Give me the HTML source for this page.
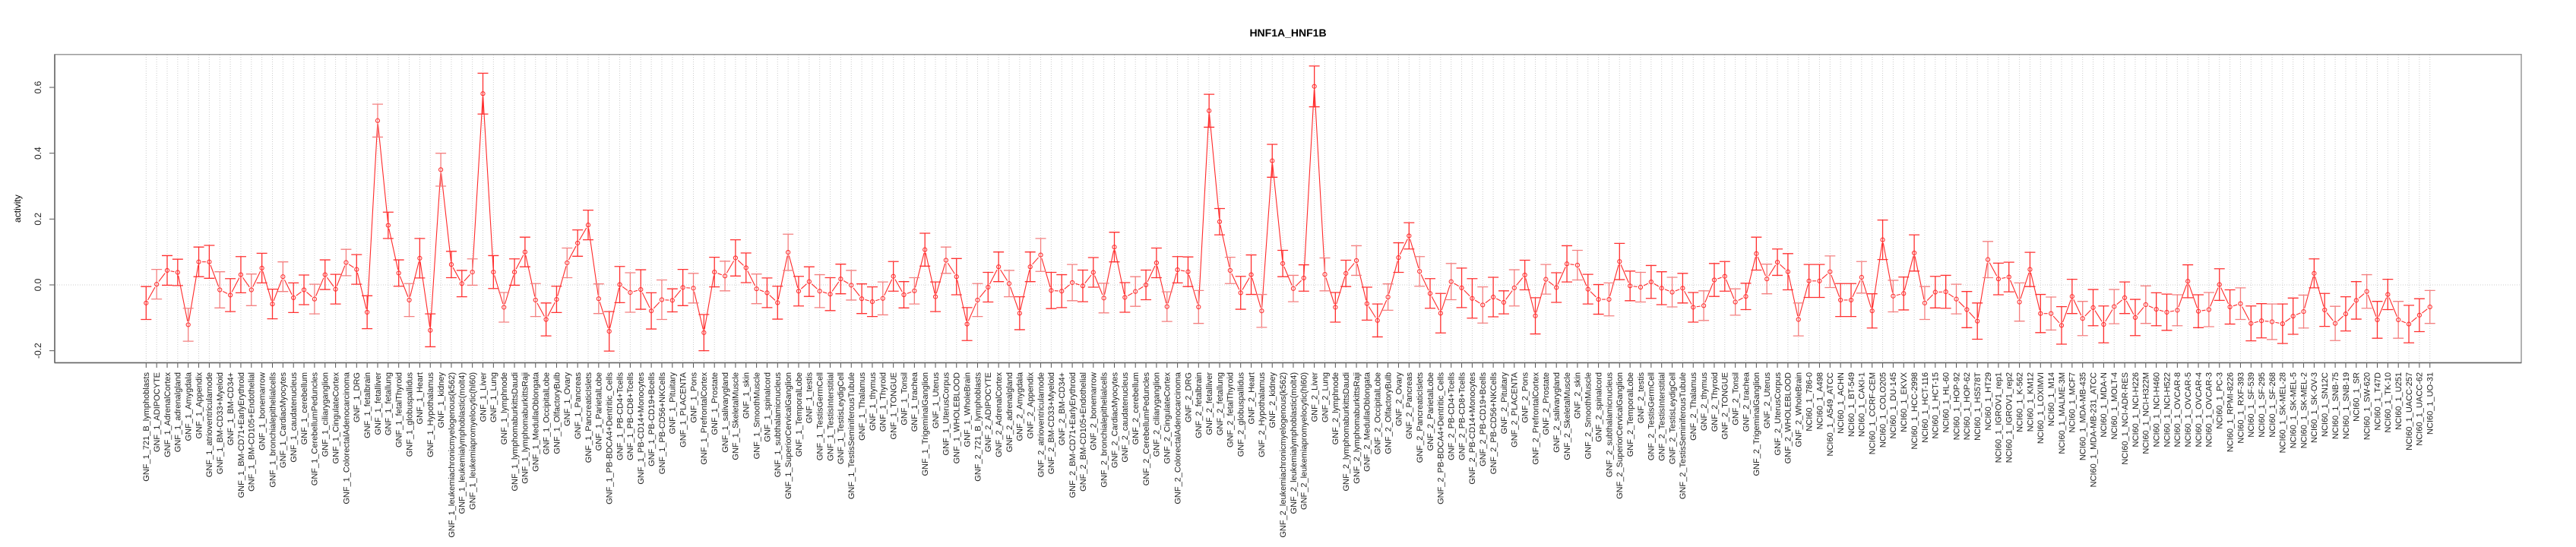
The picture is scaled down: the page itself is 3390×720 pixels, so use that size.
<!DOCTYPE html>
<html><head><meta charset="utf-8">
<style>
html,body{margin:0;padding:0;background:#fff;}
svg{display:block;font-family:"Liberation Sans",Arial,sans-serif;}
</style></head>
<body>
<svg id="chart" width="3390" height="720" viewBox="0 0 3390 720" xmlns="http://www.w3.org/2000/svg">
<rect x="0" y="0" width="3390" height="720" fill="#fff"/>
<text x="1695" y="48" text-anchor="middle" font-size="14" font-weight="bold">HNF1A_HNF1B</text>
<text transform="translate(27,274.6) rotate(-90)" text-anchor="middle" font-size="12">activity</text>
<g id="grid"></g>
<g id="yaxis"></g>
<g id="xaxis"></g>
<g id="series"></g>
<rect x="72" y="71.7" width="3246" height="405.8" fill="none" stroke="#999" stroke-width="1.5"/>
<line x1="72" y1="71.7" x2="72" y2="477.5" stroke="#666" stroke-width="1.5"/>
<line x1="72" y1="477.5" x2="3318" y2="477.5" stroke="#666" stroke-width="1.5"/>
</svg>
<script>
const tissues = ["721_B_lymphoblasts","ADIPOCYTE","AdrenalCortex","adrenalgland","Amygdala","Appendix","atrioventricularnode","BM-CD33+Myeloid","BM-CD34+","BM-CD71+EarlyErythroid","BM-CD105+Endothelial","bonemarrow","bronchialepithelialcells","CardiacMyocytes","caudatenucleus","cerebellum","CerebellumPeduncles","ciliaryganglion","CingulateCortex","ColorectalAdenocarcinoma","DRG","fetalbrain","fetalliver","fetallung","fetalThyroid","globuspallidus","Heart","Hypothalamus","kidney","leukemiachronicmyelogenous(k562)","leukemialymphoblastic(molt4)","leukemiapromyelocytic(hl60)","Liver","Lung","lymphnode","lymphomaburkittsDaudi","lymphomaburkittsRaji","MedullaOblongata","OccipitalLobe","OlfactoryBulb","Ovary","Pancreas","PancreaticIslets","ParietalLobe","PB-BDCA4+Dentritic_Cells","PB-CD4+Tcells","PB-CD8+Tcells","PB-CD14+Monocytes","PB-CD19+Bcells","PB-CD56+NKCells","Pituitary","PLACENTA","Pons","PrefrontalCortex","Prostate","salivarygland","SkeletalMuscle","skin","SmoothMuscle","spinalcord","subthalamicnucleus","SuperiorCervicalGanglion","TemporalLobe","testis","TestisGermCell","TestisInterstitial","TestisLeydigCell","TestisSeminiferousTubule","Thalamus","thymus","Thyroid","TONGUE","Tonsil","trachea","TrigeminalGanglion","Uterus","UterusCorpus","WHOLEBLOOD","WholeBrain"];
const cellLines = ["786-0","A498","A549_ATCC","ACHN","BT-549","CAKI-1","CCRF-CEM","COLO205","DU-145","EKVX","HCC-2998","HCT-116","HCT-15","HL-60","HOP-92","HOP-62","HS578T","HT29","IGROV1_rep1","IGROV1_rep2","K-562","KM12","LOXIMVI","M14","MALME-3M","MCF7","MDA-MB-435","MDA-MB-231_ATCC","MDA-N","MOLT-4","NCI-ADR-RES","NCI-H226","NCI-H322M","NCI-H460","NCI-H522","OVCAR-8","OVCAR-5","OVCAR-4","OVCAR-3","PC-3","RPMI-8226","RXF-393","SF-539","SF-295","SF-268","SK-MEL-28","SK-MEL-5","SK-MEL-2","SK-OV-3","SN12C","SNB-75","SNB-19","SR","SW-620","T47D","TK-10","U251","UACC-257","UACC-62","UO-31"];
const valuesGNF1 = [-0.055,0.002,0.044,0.038,-0.121,0.070,0.070,-0.015,-0.031,0.031,-0.015,0.051,-0.058,0.025,-0.039,-0.015,-0.043,0.031,-0.013,0.068,0.047,-0.083,0.499,0.181,0.036,-0.046,0.081,-0.138,0.350,0.062,0.004,0.039,0.581,0.039,-0.068,0.039,0.100,-0.046,-0.105,-0.044,0.067,0.127,0.182,-0.042,-0.141,0.001,-0.023,-0.014,-0.079,-0.045,-0.047,-0.008,-0.010,-0.145,0.039,0.027,0.082,0.052,-0.012,-0.024,-0.054,0.099,-0.019,0.010,-0.019,-0.028,0.018,-0.001,-0.042,-0.051,-0.041,0.026,-0.030,-0.018,0.107,-0.036,0.075,0.025,-0.119];
const valuesGNF2 = [-0.046,-0.007,0.055,0.004,-0.086,0.055,0.091,-0.017,-0.019,0.007,-0.003,0.038,-0.040,0.115,-0.038,-0.020,0.000,0.067,-0.066,0.046,0.040,-0.067,0.529,0.192,0.044,-0.024,0.031,-0.079,0.377,0.065,-0.011,0.021,0.603,0.032,-0.068,0.035,0.074,-0.057,-0.108,-0.037,0.083,0.149,0.041,-0.026,-0.086,0.010,-0.009,-0.041,-0.061,-0.037,-0.053,-0.009,0.030,-0.094,0.017,-0.008,0.064,0.060,-0.013,-0.044,-0.044,0.071,-0.003,-0.007,0.009,-0.010,-0.022,-0.010,-0.068,-0.063,0.015,0.026,-0.052,-0.035,0.095,0.018,0.069,0.040,-0.105];
const valuesNCI = [0.012,0.012,0.040,-0.046,-0.046,0.023,-0.079,0.137,-0.034,-0.026,0.097,-0.055,-0.022,-0.021,-0.043,-0.075,-0.110,0.077,0.018,0.024,-0.052,0.047,-0.087,-0.087,-0.123,-0.035,-0.102,-0.069,-0.120,-0.066,-0.039,-0.099,-0.060,-0.074,-0.083,-0.077,0.011,-0.080,-0.075,0.001,-0.067,-0.057,-0.117,-0.109,-0.112,-0.118,-0.095,-0.081,0.035,-0.076,-0.117,-0.088,-0.047,-0.020,-0.106,-0.029,-0.106,-0.119,-0.092,-0.067];
const errGNF = [0.050,0.045,0.045,0.040,0.050,0.045,0.050,0.055,0.050,0.055,0.048,0.045,0.045,0.045,0.045,0.045,0.045,0.045,0.045,0.040,0.045,0.050,0.050,0.040,0.040,0.050,0.060,0.050,0.050,0.040,0.040,0.040,0.062,0.050,0.045,0.040,0.045,0.050,0.050,0.040,0.045,0.040,0.045,0.045,0.060,0.055,0.060,0.060,0.055,0.060,0.035,0.055,0.045,0.055,0.045,0.045,0.055,0.045,0.045,0.045,0.050,0.055,0.045,0.045,0.050,0.050,0.045,0.045,0.045,0.045,0.050,0.045,0.040,0.040,0.050,0.045,0.040,0.055,0.050];
const errNCI = [0.050,0.050,0.048,0.050,0.050,0.048,0.052,0.060,0.048,0.050,0.055,0.050,0.048,0.050,0.045,0.055,0.055,0.055,0.048,0.045,0.058,0.052,0.058,0.050,0.057,0.052,0.052,0.055,0.056,0.052,0.048,0.055,0.057,0.050,0.055,0.047,0.050,0.050,0.052,0.048,0.052,0.048,0.053,0.052,0.054,0.060,0.055,0.050,0.044,0.050,0.052,0.052,0.057,0.051,0.056,0.046,0.056,0.057,0.050,0.050];

const NS = "http://www.w3.org/2000/svg";
const X0 = 192.3, DX = 13.85, Y0 = 375, YS = 433.3;
function xPos(i){ return X0 + i*DX; }
function yPos(v){ return Y0 - v*YS; }
function mk(tag, attrs, parent){
  const el = document.createElementNS(NS, tag);
  for (const k in attrs) el.setAttribute(k, attrs[k]);
  parent.appendChild(el);
  return el;
}
const labels = tissues.map(t=>"GNF_1_"+t).concat(tissues.map(t=>"GNF_2_"+t)).concat(cellLines.map(c=>"NCI60_1_"+c));
const values = valuesGNF1.concat(valuesGNF2).concat(valuesNCI);
const errs = errGNF.concat(errGNF).concat(errNCI);

const grid = document.getElementById('grid');
const xaxis = document.getElementById('xaxis');
const yaxis = document.getElementById('yaxis');
const series = document.getElementById('series');

const yTicks = [-0.2,0.0,0.2,0.4,0.6];
const yTickLabels = ["-0.2","0.0","0.2","0.4","0.6"];
yTicks.forEach((t,k)=>{
  const y = yPos(t);
  const tk = mk('line',{x1:65,x2:72,y1:y,y2:y,stroke:'#555','stroke-width':1},yaxis);
  
  
  const tx = mk('text',{transform:`translate(54,${y}) rotate(-90)`,'text-anchor':'middle','font-size':12,fill:'#222'},yaxis);
  tx.textContent = yTickLabels[k];
  
  
});
const zl = mk('line',{x1:72,x2:3318,y1:yPos(0),y2:yPos(0),stroke:'#ccc','stroke-width':1,'stroke-dasharray':'1,2'},grid);



labels.forEach((lab,i)=>{
  const x = xPos(i);
  const g = mk('line',{x1:x,x2:x,y1:72,y2:477.5,stroke:'#ccc','stroke-width':1,'stroke-dasharray':'1,2'},grid);
  
  
  const tk = mk('line',{x1:x,x2:x,y1:477.5,y2:484,stroke:'#555','stroke-width':1},xaxis);
  
  
  const tx = mk('text',{transform:`translate(${x+3.8},490) rotate(-90)`,'text-anchor':'end','font-size':11,fill:'#222'},xaxis);
  tx.textContent = lab;
  
  
});

// connecting line segments (type "b": gaps around points)
for (let i=0;i<values.length-1;i++){
  const x1=xPos(i), y1=yPos(values[i]), x2=xPos(i+1), y2=yPos(values[i+1]);
  const dx=x2-x1, dy=y2-y1, L=Math.hypot(dx,dy), gap=4.5;
  if (L<=2*gap) continue;
  const ux=dx/L, uy=dy/L;
  const s = mk('line',{x1:x1+ux*gap,y1:y1+uy*gap,x2:x2-ux*gap,y2:y2-uy*gap,stroke:'#ff2a2a','stroke-width':1.1},series);
  
  
}
values.forEach((v,i)=>{
  const x=xPos(i), yt=yPos(v+errs[i]), yb=yPos(v-errs[i]);
  const col = (i%3===1)?'#f48080':'#ff3030';
  const eb = mk('path',{d:`M${x},${yt}V${yb}M${x-7},${yt}H${x+7}M${x-7},${yb}H${x+7}`,stroke:col,'stroke-width':1.3,fill:'none'},series);
  
  
  const c = mk('circle',{cx:x,cy:yPos(v),r:2.6,fill:'none',stroke:'#ff2a2a','stroke-width':1},series);
  
  
});
</script>
</body></html>
